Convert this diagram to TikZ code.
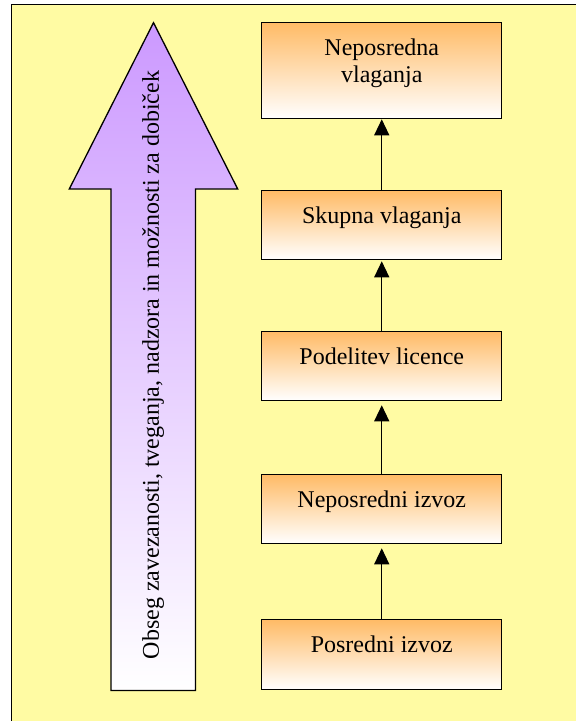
\documentclass[tikz,border=0pt]{standalone}
\usepackage{fontspec}
\setmainfont{LiberationSerif}[Extension=.ttf,UprightFont=*-Regular]
\usetikzlibrary{arrows.meta}
\definecolor{bgyellow}{RGB}{255,251,163}
\definecolor{boxorange}{RGB}{255,187,102}
\definecolor{arrowlilac}{RGB}{204,153,255}
\tikzset{
  stagebox/.style={draw,line width=1.3pt,top color=boxorange,bottom color=white,
    minimum width=240pt,inner xsep=0pt,inner ysep=0pt,
    text height=33pt,text depth=36pt,anchor=north},
  uparrow/.style={line width=1.3pt,-{Triangle[length=16pt,width=15pt]}}
}
\begin{document}
\begin{tikzpicture}[x=1pt,y=-1pt,font=\fontsize{24}{27}\selectfont]
\useasboundingbox (0,0) rectangle (576,721);
\fill[bgyellow] (11,4) rectangle (576,721);
\draw[line width=0.9pt] (11,721)--(11,4)--(576,4);
% big arrow
\draw[line width=1.3pt,top color=arrowlilac,bottom color=white]
(111,690.5)--(111,189)--(69.3,189)--(153.5,22.7)--(237.7,189)--(195.5,189)--(195.5,690.5)--cycle;
\node[rotate=90] (scopetext) at (153,365) {Obseg zavezanosti, tveganja, nadzora in možnosti za dobiček};
% stages
\node[stagebox,text depth=63pt] (invest) at (381.75,22) {\parbox[t]{200pt}{\centering Neposredna\\vlaganja}};
\node[stagebox] (joint) at (381.75,190) {Skupna vlaganja};
\node[stagebox] (licence) at (381.75,331) {Podelitev licence};
\node[stagebox] (direct) at (381.75,474) {Neposredni izvoz};
\node[stagebox,text depth=37pt] (indirect) at (381.75,619) {Posredni izvoz};
\draw[uparrow] (joint.north)--(invest.south);
\draw[uparrow,shorten >=1pt] (licence.north)--(joint.south);
\draw[uparrow,shorten >=4pt] (direct.north)--(licence.south);
\draw[uparrow,shorten >=4pt] (indirect.north)--(direct.south);
\end{tikzpicture}
\end{document}
